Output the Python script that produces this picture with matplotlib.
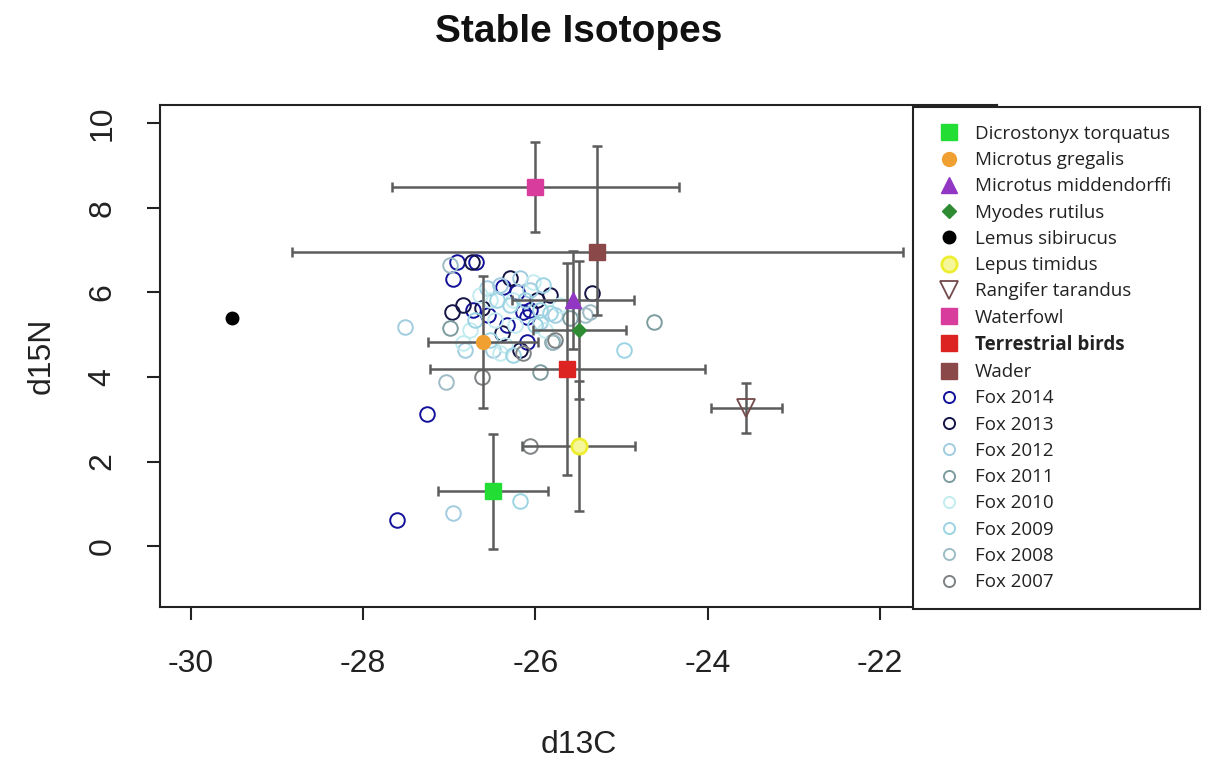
import matplotlib
matplotlib.use("Agg")
import matplotlib.pyplot as plt
from matplotlib.lines import Line2D

# species means (d13C, d15N) and spread
species = ["Dicrostonyx torquatus", "Microtus gregalis", "Microtus middendorffi",
           "Myodes rutilus", "Lemus sibirucus", "Lepus timidus", "Rangifer tarandus",
           "Waterfowl", "Terrestrial birds", "Wader"]
sp_d13c = [-26.49, -26.61, -25.56, -25.49, -29.52, -25.50, -23.55, -26.00, -25.63, -25.28]
sp_d15n = [1.30, 4.82, 5.82, 5.12, 5.39, 2.36, 3.26, 8.49, 4.19, 6.95]
sp_sd13c = [0.64, 0.64, 0.71, 0.54, 0.0, 0.66, 0.41, 1.67, 1.60, 3.55]
sp_sd15n_lo = [1.36, 1.56, 1.15, 1.63, 0.0, 1.54, 0.59, 1.07, 2.50, 1.49]
sp_sd15n_hi = [1.36, 1.56, 1.15, 1.63, 0.0, 1.54, 0.59, 1.07, 2.50, 2.51]

# fox hair samples per year
fox_2014_c = [-27.61, -27.26, -26.91, -26.69, -26.96, -26.38, -26.21, -26.33, -26.10, -26.55, -26.72, -26.14, -26.10, -26.06]
fox_2014_n = [0.61, 3.12, 6.71, 6.71, 6.31, 6.12, 6.00, 5.22, 4.82, 5.46, 5.58, 5.53, 5.41, 5.58]
fox_2013_c = [-26.74, -26.97, -26.30, -25.98, -25.83, -25.34, -26.62, -26.39, -26.84, -26.18]
fox_2013_n = [6.71, 5.53, 6.34, 5.82, 5.93, 5.98, 5.63, 5.04, 5.70, 4.63]
fox_2012_c = [-27.51, -26.18, -26.56, -25.95, -26.49, -26.96, -25.77, -26.82, -26.41, -26.06]
fox_2012_n = [5.18, 6.34, 6.10, 5.30, 4.63, 0.78, 5.46, 4.63, 6.17, 6.05]
fox_2011_c = [-24.62, -25.95, -25.60, -25.81, -26.99]
fox_2011_n = [5.30, 4.11, 5.39, 4.82, 5.15]
fox_2010_c = [-26.64, -26.41, -26.03, -26.84, -26.26, -26.47, -26.24, -25.89, -26.76, -26.35, -25.71, -26.53]
fox_2010_n = [5.93, 4.56, 6.24, 4.80, 5.82, 5.34, 5.22, 5.11, 5.11, 4.75, 5.70, 5.82]
fox_2009_c = [-25.91, -25.83, -24.97, -26.18, -26.26, -26.45, -26.30, -26.00, -26.53, -25.95, -26.70, -26.12]
fox_2009_n = [6.17, 5.51, 4.63, 1.06, 4.52, 5.82, 5.70, 5.22, 4.87, 5.58, 5.34, 5.82]
fox_2008_c = [-27.04, -26.99, -25.42, -25.37, -25.80]
fox_2008_n = [3.88, 6.64, 5.46, 5.53, 4.82]
fox_2007_c = [-26.06, -26.62, -25.77, -26.14]
fox_2007_n = [2.36, 4.00, 4.87, 4.56]

fox_years = ["Fox 2014", "Fox 2013", "Fox 2012", "Fox 2011",
             "Fox 2010", "Fox 2009", "Fox 2008", "Fox 2007"]
fox_c = [fox_2014_c, fox_2013_c, fox_2012_c, fox_2011_c,
         fox_2010_c, fox_2009_c, fox_2008_c, fox_2007_c]
fox_n = [fox_2014_n, fox_2013_n, fox_2012_n, fox_2011_n,
         fox_2010_n, fox_2009_n, fox_2008_n, fox_2007_n]
fox_colors = ["#12129a", "#141446", "#a2cce0", "#7c9c9e",
              "#c2ecf0", "#9cd4e4", "#9ebcc6", "#7e8284"]

sp_style = [
    dict(marker="s", color="#22dd33", ms=11),
    dict(marker="o", color="#f0a030", ms=10),
    dict(marker="^", color="#9236c4", ms=12),
    dict(marker="D", color="#2e8b34", ms=7),
    dict(marker="o", color="black", ms=9),
    dict(marker="o", color="#eeee30", mfc="#f6f69a", ms=11, mew=2),
    dict(marker="v", color="#744a4a", mfc="none", ms=13, mew=1.3),
    dict(marker="s", color="#d83c9c", ms=11),
    dict(marker="s", color="#dd2222", ms=11),
    dict(marker="s", color="#8a4848", ms=11),
]

plt.rcParams["font.family"] = ["Liberation Sans", "DejaVu Sans"]
plt.rcParams["axes.unicode_minus"] = False

fig = plt.figure(figsize=(12.09, 7.62), dpi=100)
ax = fig.add_axes([160 / 1209, 155 / 762, 837 / 1209, 502 / 762])

for c, n, col in zip(fox_c, fox_n, fox_colors):
    ax.plot(c, n, linestyle="none", marker="o", ms=10.5, mfc="none",
            mec=col, mew=1.4, zorder=2)

for i in range(len(species)):
    if sp_sd13c[i] > 0:
        ax.errorbar(sp_d13c[i], sp_d15n[i], xerr=sp_sd13c[i],
                    yerr=[[sp_sd15n_lo[i]], [sp_sd15n_hi[i]]],
                    fmt="none", ecolor="#5c5c5c", elinewidth=1.8,
                    capsize=3.5, capthick=1.8, zorder=3)

handles = []
for i, name in enumerate(species):
    st = dict(sp_style[i])
    mk = st.pop("marker")
    col = st.pop("color")
    ms = st.pop("ms")
    mfc = st.pop("mfc", col)
    mew = st.pop("mew", 1.0)
    h, = ax.plot(sp_d13c[i], sp_d15n[i], linestyle="none", marker=mk, ms=ms,
                 mfc=mfc, mec=col, mew=mew, zorder=4, label=name)
    handles.append(h)

for year, col in zip(fox_years, fox_colors):
    handles.append(Line2D([], [], linestyle="none", marker="o", ms=8,
                          mfc="none", mec=col, mew=1.4, label=year))

ax.set_xlim(-30.36, -20.64)
ax.set_ylim(-1.44, 10.43)
ax.set_xticks([-30, -28, -26, -24, -22])
ax.set_yticks([0, 2, 4, 6, 8, 10])
ax.tick_params(axis="both", direction="out", length=9.5, width=1.5,
               labelsize=23, colors="#222222")
ax.tick_params(axis="x", pad=21)
ax.tick_params(axis="y", pad=21)
for lab in ax.get_yticklabels():
    lab.set_rotation(90)
    lab.set_va("center")
for sp in ax.spines.values():
    sp.set_linewidth(1.5)
    sp.set_color("#222222")

ax.set_xlabel("d13C", fontsize=23, color="#222222", va="center")
ax.set_ylabel("d15N", fontsize=23, color="#222222", va="center")
ax.xaxis.set_label_coords(0.5, -0.275)
ax.yaxis.set_label_coords(-0.141, 0.5)

fig.text(0.4785, 0.958, "Stable Isotopes", ha="center", va="center",
         fontsize=28, fontweight="bold", color="#111111")

top = 1 - 107 / 762
leg = fig.legend(handles=handles, loc="upper left",
                 bbox_to_anchor=(913 / 1209, top - 0.01, 287 / 1209, 0.01),
                 mode="expand", frameon=True, fancybox=False, framealpha=1,
                 edgecolor="#222222", prop={"family": "Open Sans", "size": 13.5},
                 labelspacing=0.44, handlelength=1.95, handletextpad=0.4,
                 borderpad=0.95, borderaxespad=0)
leg.get_frame().set_linewidth(1.5)
for t in leg.get_texts():
    t.set_color("#222222")
leg.get_texts()[8].set_fontweight("bold")

fig.savefig("out.png", dpi=100)
